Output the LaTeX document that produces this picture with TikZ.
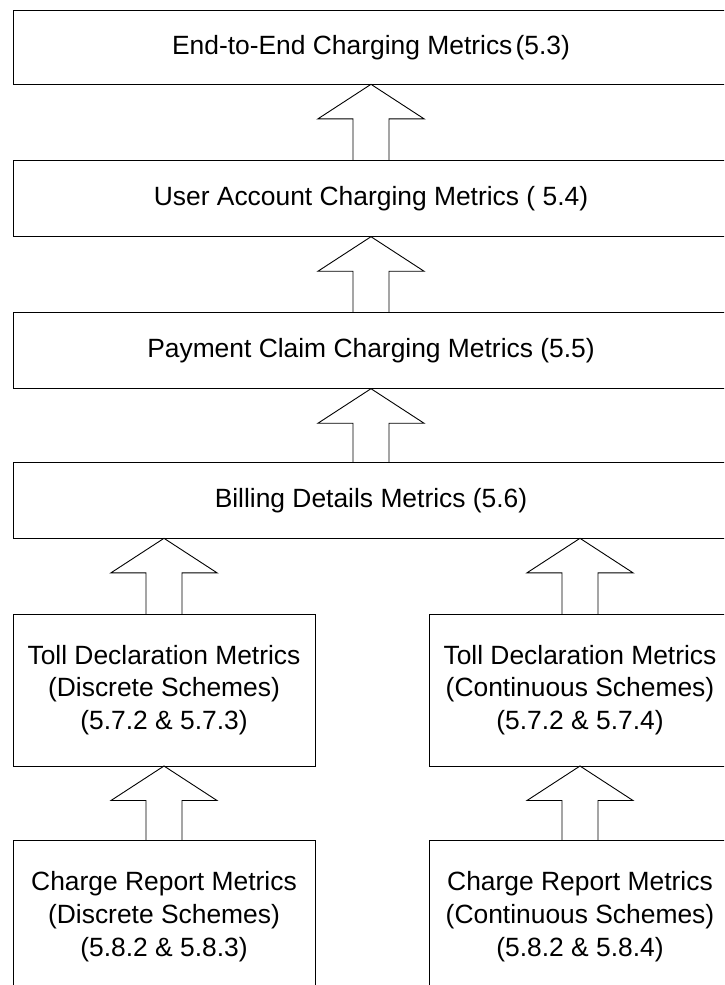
\documentclass[tikz,border=0pt]{standalone}
\usepackage{fontspec}
\setmainfont{Liberation Sans}
\usetikzlibrary{calc}
\tikzset{
  box/.style={draw=black, line width=0.9pt, minimum width=302pt, minimum height=151.7pt,
    inner sep=0pt, outer sep=0pt, align=center, font=\fontsize{26.4}{32.8}\selectfont},
  widebox/.style={box, minimum width=716pt, minimum height=76pt},
  arrowline/.style={draw=black, line width=0.9pt, line join=miter}
}
\newcommand{\blockarr}[2]{% #1 lower node, #2 upper node
  \draw[arrowline] let \p1=(#1.north), \p2=(#2.south) in
    (\x1-18pt,\y1) -- (\x1-18pt,\y2-34.5pt) -- (\x1-53pt,\y2-34.5pt) -- (\x1,\y2)
    -- (\x1+53pt,\y2-34.5pt) -- (\x1+18pt,\y2-34.5pt) -- (\x1+18pt,\y1);}
\begin{document}
\begin{tikzpicture}[x=1pt,y=-1pt]
\useasboundingbox (0,0) rectangle (724,985);
\clip (0,0) rectangle (724,985);
\fill[white] (0,0) rectangle (724,985);
\node[widebox, minimum height=73.6pt] (e2e) at (371,47.5) {End-to-End Charging Metrics\hspace{0.12em}(5.3)};
\node[widebox] (uacc) at (371,198.7) {User Account Charging Metrics ( 5.4)};
\node[widebox] (pclaim) at (371,350.7) {Payment Claim Charging Metrics (5.5)};
\node[widebox, minimum height=75.6pt] (bill) at (371,500.5) {Billing Details Metrics (5.6)};
\node[box] (tollD) at (164,690.15) {Toll Declaration Metrics\\(Discrete Schemes)\\(5.7.2 \& 5.7.3)};
\node[box] (tollC) at (580,690.15) {Toll Declaration Metrics\\(Continuous Schemes)\\(5.7.2 \& 5.7.4)};
\node[box] (chgD) at (164,916.55) {Charge Report Metrics\\(Discrete Schemes)\\(5.8.2 \& 5.8.3)};
\node[box] (chgC) at (580,916.55) {Charge Report Metrics\\(Continuous Schemes)\\(5.8.2 \& 5.8.4)};
\blockarr{uacc}{e2e}
\blockarr{pclaim}{uacc}
\blockarr{bill}{pclaim}
\blockarr{tollD}{bill}
\blockarr{tollC}{bill}
\blockarr{chgD}{tollD}
\blockarr{chgC}{tollC}
\end{tikzpicture}
\end{document}
